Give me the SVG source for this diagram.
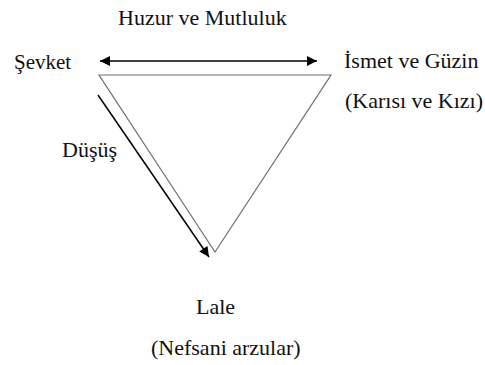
<svg xmlns="http://www.w3.org/2000/svg" width="485" height="365" viewBox="0 0 485 365">
<defs>
<style>
.t{font-family:'Liberation Serif','Times New Roman',Times,serif;font-size:22px;fill:#111}
.tri{fill:none;stroke:#6e6e6e;stroke-width:1.2}
.arr{fill:none;stroke:#000;stroke-width:1.5}
</style>
<marker id="ah" viewBox="0 0 10 10" refX="10" refY="5" markerWidth="12" markerHeight="10" markerUnits="userSpaceOnUse" orient="auto-start-reverse">
<path d="M0,0 L10,5 L0,10 z" fill="#000"/>
</marker>
</defs>
<rect width="485" height="365" fill="#fff"/>
<g id="connectors">
<polygon class="tri" points="99,75 331,75 215,252"/>
<line class="arr" x1="100" y1="61" x2="317" y2="61" marker-start="url(#ah)" marker-end="url(#ah)"/>
<line class="arr" x1="98" y1="95" x2="209" y2="257" marker-end="url(#ah)"/>
</g>
<g class="t">
<g id="huzur"><text x="118" y="25">Huzur ve Mutluluk</text></g>
<g id="sevket"><text x="14" y="69" font-size="21">Şevket</text></g>
<g id="ismet"><text x="344" y="68">İsmet ve Güzin</text><text x="345" y="108">(Karısı ve Kızı)</text></g>
<g id="dusus"><text x="62" y="157">Düşüş</text></g>
<g id="lale"><text x="196" y="314">Lale</text><text x="151" y="355">(Nefsani arzular)</text></g>
</g>
</svg>
